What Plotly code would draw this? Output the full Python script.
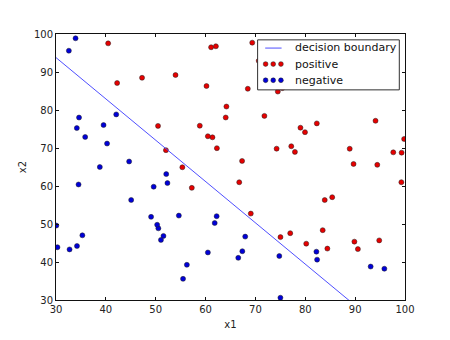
import numpy as np
import plotly.graph_objects as go

# Exam scores of admitted (positive) applicants
pos_x1 = [60.18, 79.03, 61.11, 75.02, 76.10, 84.43, 82.31, 69.36, 53.97, 69.07,
          70.66, 76.98, 89.68, 77.92, 62.27, 80.19, 61.38, 85.40, 52.05, 64.18,
          83.90, 94.44, 77.19, 97.77, 62.07, 91.56, 79.94, 99.27, 90.55, 97.65,
          74.25, 71.80, 75.40, 40.46, 80.28, 66.75, 64.04, 72.35, 60.46, 58.84,
          99.83, 47.26, 50.46, 88.91, 94.83, 67.32, 57.24, 80.37, 68.47, 75.48,
          78.64, 94.09, 90.45, 74.49, 89.85, 83.49, 42.26, 99.32, 55.34, 74.78]
pos_x2 = [86.31, 75.34, 96.51, 46.55, 87.42, 43.53, 76.48, 97.72, 89.21, 52.74,
          92.93, 47.58, 65.80, 68.97, 69.95, 44.82, 72.81, 57.05, 69.43, 80.91,
          56.31, 65.57, 70.46, 86.73, 96.77, 88.70, 74.16, 61.00, 43.39, 68.86,
          69.82, 78.45, 85.76, 97.54, 92.12, 60.99, 78.03, 96.23, 73.09, 75.86,
          72.37, 88.48, 75.81, 69.80, 45.69, 66.59, 59.51, 90.96, 85.59, 90.42,
          96.65, 77.16, 87.51, 84.85, 45.36, 48.38, 87.10, 68.78, 64.93, 89.53]

# Exam scores of rejected (negative) applicants
neg_x1 = [34.62, 30.29, 35.85, 45.08, 95.86, 75.01, 39.54, 67.95, 67.37, 50.53,
          34.21, 93.11, 61.83, 38.79, 52.11, 40.24, 54.64, 33.92, 74.79, 34.18,
          51.55, 82.37, 51.05, 62.22, 34.52, 50.29, 49.59, 32.58, 35.29, 56.25,
          30.06, 44.67, 66.56, 49.07, 32.72, 60.46, 82.23, 42.08, 52.35, 55.48]
neg_x2 = [78.02, 43.89, 72.90, 56.32, 38.23, 30.60, 76.04, 46.68, 42.84, 48.86,
          44.21, 38.80, 50.26, 65.00, 63.13, 71.17, 52.21, 98.87, 41.57, 75.24,
          46.86, 40.62, 45.82, 52.06, 60.40, 49.80, 59.81, 95.60, 47.02, 39.26,
          49.59, 66.45, 41.09, 51.88, 43.31, 42.51, 42.72, 78.84, 60.77, 35.57]

# Logistic regression weights: theta0 + theta1*x1 + theta2*x2 = 0
theta = [-25.28, 0.2174, 0.2]

ticks = [30, 40, 50, 60, 70, 80, 90, 100]
legend_labels = ["decision boundary", "positive", "negative"]

POS_COLOR = "#e60000"
NEG_COLOR = "#0000d8"
LINE_COLOR = "#4f4fff"

bx = np.array([28.0, 102.0])
by = -(theta[0] + theta[1] * bx) / theta[2]

fig = go.Figure()
marker_line = dict(color="#202020", width=0.5)
fig.add_trace(go.Scatter(x=pos_x1, y=pos_x2, mode="markers", name=legend_labels[1],
                         marker=dict(color=POS_COLOR, size=5, line=marker_line)))
fig.add_trace(go.Scatter(x=neg_x1, y=neg_x2, mode="markers", name=legend_labels[2],
                         marker=dict(color=NEG_COLOR, size=5, line=marker_line)))
fig.add_trace(go.Scatter(x=bx, y=by, mode="lines", name=legend_labels[0],
                         line=dict(color=LINE_COLOR, width=1)))

axis_common = dict(
    showgrid=False, zeroline=False, showline=True, linecolor="#111", linewidth=1,
    mirror="ticks", ticks="inside", ticklen=3, tickcolor="#111", tickwidth=1,
    tickvals=ticks, tickfont=dict(size=10, color="#222"),
)
fig.update_xaxes(range=[30, 100], title=dict(text="x1", font=dict(size=10, color="#222"), standoff=6),
                 **axis_common)
fig.update_yaxes(range=[30, 100], title=dict(text="x2", font=dict(size=10, color="#222"), standoff=5),
                 **axis_common)

# Framed legend in the upper right, with three sample markers per scatter entry
shapes = [dict(type="rect", xref="paper", yref="paper", x0=0.5777, x1=0.9837, y0=0.790, y1=0.978,
               fillcolor="white", line=dict(color="#303030", width=1), layer="above"),
          dict(type="line", xref="paper", yref="paper", x0=0.5994, x1=0.6464, y0=0.9471, y1=0.9471,
               line=dict(color=LINE_COLOR, width=1), layer="above")]
for yy, col in [(0.8871, POS_COLOR), (0.8261, NEG_COLOR)]:
    for xx in [0.6006, 0.6224, 0.6445]:
        shapes.append(dict(type="circle", xref="paper", yref="paper", xsizemode="pixel",
                           ysizemode="pixel", xanchor=xx, yanchor=yy, x0=-2.4, x1=2.4, y0=-2.4, y1=2.4,
                           fillcolor=col, line=dict(color="#202020", width=0.5), layer="above"))
annotations = []
for yy, txt in zip([0.9485, 0.886, 0.827], legend_labels):
    annotations.append(dict(xref="paper", yref="paper", x=0.6797, y=yy, text=txt, showarrow=False,
                            xanchor="left", yanchor="middle", font=dict(size=11, color="#111")))

fig.update_layout(
    width=450, height=340,
    margin=dict(l=56, r=45, t=34, b=34),
    plot_bgcolor="white", paper_bgcolor="white",
    font=dict(family="DejaVu Sans"),
    showlegend=False,
    shapes=shapes, annotations=annotations,
)

fig.write_html("out.html")
